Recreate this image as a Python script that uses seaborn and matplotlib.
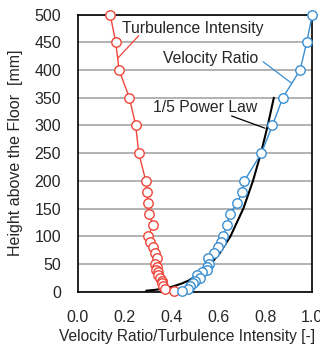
import matplotlib
matplotlib.use("Agg")
import matplotlib.pyplot as plt
import seaborn as sns
import numpy as np

heights = [500, 450, 400, 350, 300, 250, 200, 180, 160, 140, 120, 100, 90, 80, 70,
           60, 50, 45, 40, 35, 30, 25, 20, 15, 10, 5, 2]
velocity_ratio = [1.0, 0.976, 0.948, 0.874, 0.83, 0.783, 0.71, 0.70, 0.68, 0.648, 0.635,
                  0.62, 0.61, 0.60, 0.58, 0.555, 0.56, 0.55, 0.55, 0.53, 0.51, 0.52,
                  0.50, 0.49, 0.48, 0.47, 0.445]
turbulence = [0.138, 0.162, 0.176, 0.22, 0.247, 0.26, 0.29, 0.295, 0.30, 0.304, 0.32,
              0.30, 0.308, 0.322, 0.33, 0.337, 0.33, 0.337, 0.334, 0.34, 0.344, 0.351,
              0.358, 0.36, 0.365, 0.372, 0.41]
power_h = [1.8, 3, 4, 6, 8, 10, 15, 20, 30, 40, 50, 70, 100, 150, 200, 250, 300, 350]
power_v = [0.292, 0.322, 0.342, 0.371, 0.393, 0.410, 0.445, 0.472, 0.511, 0.542, 0.566,
           0.606, 0.651, 0.706, 0.747, 0.781, 0.810, 0.836]
x_ticks = [0.0, 0.2, 0.4, 0.6, 0.8, 1.0]
y_ticks = [0, 50, 100, 150, 200, 250, 300, 350, 400, 450, 500]

sns.set_style("white")
plt.rcParams['font.family'] = ['Liberation Sans', 'DejaVu Sans']

fig = plt.figure(figsize=(3.2, 3.47), dpi=100)
ax = fig.add_axes([0.243, 0.1594, 0.733, 0.7986])

red = '#f0453a'
blue = '#3a8fd2'

ax.set_xlim(0, 1.0)
ax.set_ylim(0, 500)
ax.set_yticks(y_ticks)
ax.set_xticks(x_ticks)
ax.set_xticklabels([f"{t:.1f}" for t in x_ticks])
ax.yaxis.grid(True, color='#a6a6a6', linewidth=1.2, zorder=0)
ax.xaxis.grid(False)
ax.set_axisbelow(True)

sns.lineplot(x=power_v, y=power_h, sort=False, estimator=None, orient='y',
             color='black', linewidth=1.5, ax=ax, zorder=3)
sns.lineplot(x=turbulence, y=heights, sort=False, estimator=None, orient='y',
             color=red, linewidth=1.0, marker='o', markersize=6.8,
             markerfacecolor='white', markeredgecolor=red, markeredgewidth=1.0,
             ax=ax, zorder=4, clip_on=False)
sns.lineplot(x=velocity_ratio, y=heights, sort=False, estimator=None, orient='y',
             color=blue, linewidth=1.0, marker='o', markersize=6.8,
             markerfacecolor='white', markeredgecolor=blue, markeredgewidth=1.0,
             ax=ax, zorder=4, clip_on=False)

for s in ax.spines.values():
    s.set_color('black')
    s.set_linewidth(1.2)
    s.set_zorder(2.5)

ax.tick_params(axis='x', direction='in', length=3, width=0.8, color='#888888',
               labelsize=11.5, pad=13)
ax.tick_params(axis='y', length=0, labelsize=11.5, pad=12)

ax.set_xlabel('Velocity Ratio/Turbulence Intensity [-]', fontsize=11.2)
ax.xaxis.set_label_coords(0.468, -0.135)
ax.set_ylabel('Height above the Floor  [mm]', fontsize=11.5, labelpad=8)

# annotations
ax.text(0.188, 474, 'Turbulence Intensity', fontsize=11.3, ha='left', va='center', zorder=6)
ax.plot([0.26, 0.17], [462, 421], color=red, linewidth=0.9, zorder=5)
ax.text(0.362, 420, 'Velocity Ratio', fontsize=11.3, ha='left', va='center', zorder=6)
ax.plot([0.79, 0.912], [415, 376], color=blue, linewidth=0.9, zorder=5)
ax.text(0.32, 333, '1/5 Power Law', fontsize=11.3, ha='left', va='center', zorder=6)
ax.plot([0.656, 0.798], [317, 295], color='black', linewidth=0.9, zorder=5)

fig.savefig('out.png', dpi=100)
